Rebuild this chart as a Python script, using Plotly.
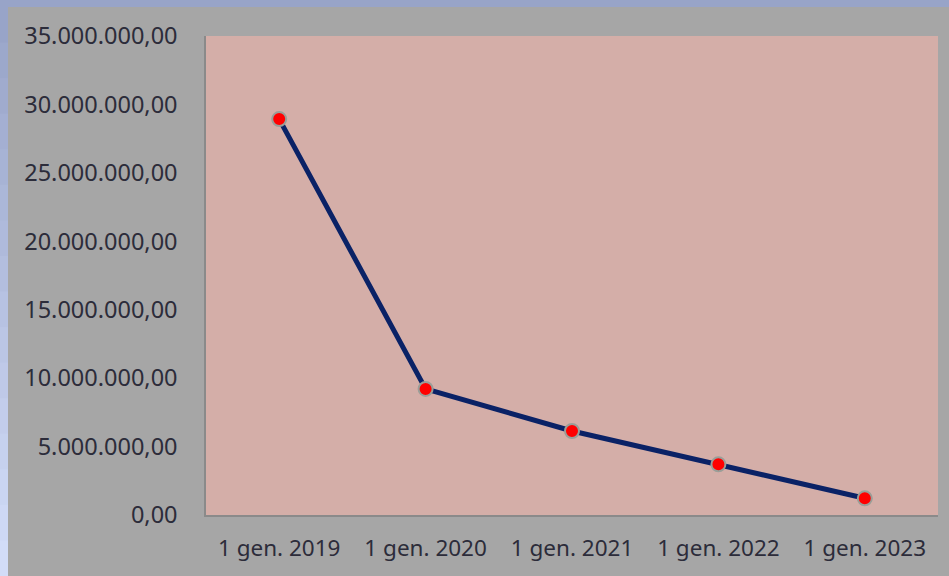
import plotly.graph_objects as go

categories = ["1 gen. 2019", "1 gen. 2020", "1 gen. 2021", "1 gen. 2022", "1 gen. 2023"]
values = [28930000, 9210000, 6140000, 3700000, 1220000]
y_tick_vals = [0, 5000000, 10000000, 15000000, 20000000, 25000000, 30000000, 35000000]
y_tick_text = ["0,00", "5.000.000,00", "10.000.000,00", "15.000.000,00", "20.000.000,00",
               "25.000.000,00", "30.000.000,00", "35.000.000,00"]

W, H = 949, 576
ML, MR, MT, MB = 206, 11, 36, 61
PW, PH = W - ML - MR, H - MT - MB

def px_x(p):
    return (p - ML) / PW

def px_y(p):
    return 1 - (p - MT) / PH

fig = go.Figure()
fig.add_trace(go.Scatter(
    x=categories, y=values, mode="lines+markers",
    line=dict(color="#0a2266", width=5),
    marker=dict(color="#ff0000", size=14, line=dict(color="#9a9e98", width=2)),
    hoverinfo="x+y",
))

shapes = []
# top blue strip
shapes.append(dict(type="rect", xref="paper", yref="paper", layer="below",
                   x0=px_x(0), x1=px_x(W), y0=px_y(0), y1=px_y(7),
                   fillcolor="#98a4c8", line=dict(width=0)))
# left strip gradient
n = 16
c0 = (0x98, 0xa4, 0xc8)
c1 = (0xd2, 0xdc, 0xf8)
for i in range(n):
    t = i / (n - 1)
    c = tuple(int(round(a + (b - a) * t)) for a, b in zip(c0, c1))
    y0 = 7 + (H - 7) * i / n
    y1 = 7 + (H - 7) * (i + 1) / n
    shapes.append(dict(type="rect", xref="paper", yref="paper", layer="below",
                       x0=px_x(0), x1=px_x(8), y0=px_y(y0), y1=px_y(y1 + 1),
                       fillcolor="rgb(%d,%d,%d)" % c, line=dict(width=0)))

fig.update_layout(
    width=W, height=H,
    margin=dict(l=ML, r=MR, t=MT, b=MB),
    paper_bgcolor="#a6a6a6",
    plot_bgcolor="#d4aea8",
    showlegend=False,
    shapes=shapes,
    font=dict(family="Noto Sans", size=23, color="#2c2c3a"),
    xaxis=dict(
        type="category", range=[-0.5, 4.5],
        showgrid=False, zeroline=False,
        showline=True, linecolor="#8a8a8a", linewidth=2,
        ticks="", ticklabelstandoff=12,
        tickfont=dict(size=22.5),
    ),
    yaxis=dict(
        range=[0, 35000000],
        tickvals=y_tick_vals, ticktext=y_tick_text,
        showgrid=False, zeroline=False,
        showline=True, linecolor="#8a8a8a", linewidth=1.5,
        ticks="", ticklabelstandoff=22,
        tickfont=dict(size=23.5),
    ),
)

fig.write_html(
    "out.html",
    config={"displayModeBar": False},
    post_script="document.body.style.margin='0';document.body.style.padding='0';"
                "document.body.style.background='#a6a6a6';",
)
